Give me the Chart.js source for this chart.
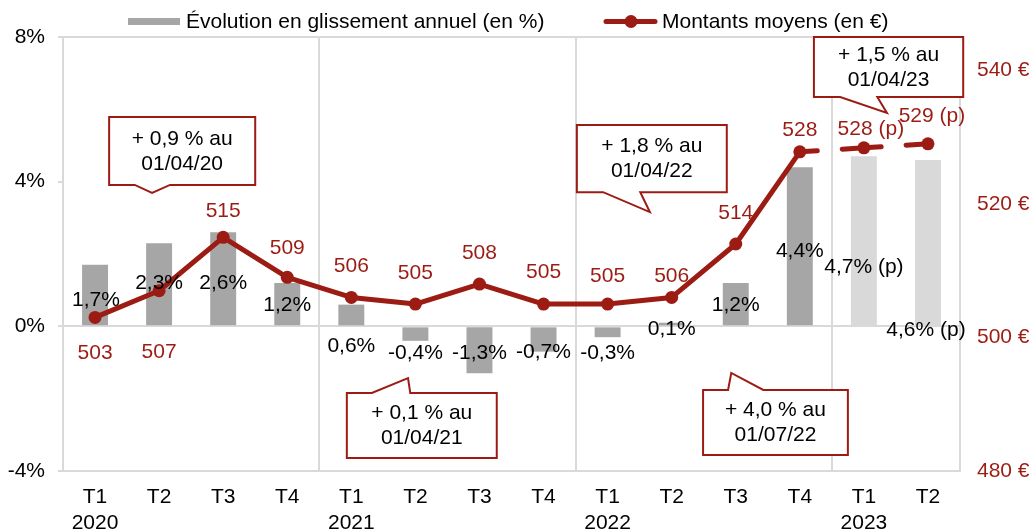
<!DOCTYPE html>
<html>
<head>
<meta charset="utf-8">
<script src="https://cdn.jsdelivr.net/npm/chart.js@4.4.1/dist/chart.umd.min.js"></script>
<style>
  html, body { margin: 0; padding: 0; background: #fff; }
  #wrap { width: 1033px; height: 530px; }
</style>
</head>
<body>
<div id="wrap"><canvas id="chart" width="1033" height="530"></canvas></div>
<script>
// Données
const quarters = ['T1', 'T2', 'T3', 'T4', 'T1', 'T2', 'T3', 'T4', 'T1', 'T2', 'T3', 'T4', 'T1', 'T2'];
const years = ['2020', '', '', '', '2021', '', '', '', '2022', '', '', '', '2023', ''];
const evolution = [1.7, 2.3, 2.6, 1.2, 0.6, -0.4, -1.3, -0.7, -0.3, 0.1, 1.2, 4.4, 4.7, 4.6];
const montants = [503, 507, 515, 509, 506, 505, 508, 505, 505, 506, 514, 527.8, 528.4, 529.0];
const provisional = [false, false, false, false, false, false, false, false, false, false, false, false, true, true];
const leftTicks = [-4, 0, 4, 8];
const rightTicks = [480, 500, 520, 540];

const legendBar = 'Évolution en glissement annuel (en %)';
const legendLine = 'Montants moyens (en €)';

// Bulles : texte, cadre en unités d'axes (catégorie, % axe gauche), pointe
const callouts = [
  { lines: ['+ 0,9 % au', '01/04/20'], x: [0.22, 2.50], y: [5.79, 3.91], side: 'bottom', base: [0.62, 1.17], tip: [0.89, 3.69] },
  { lines: ['+ 0,1 % au', '01/04/21'], x: [3.93, 6.27], y: [-1.84, -3.64], side: 'top', base: [4.32, 4.92], tip: [4.885, -1.43] },
  { lines: ['+ 1,8 % au', '01/04/22'], x: [7.52, 9.86], y: [5.57, 3.71], side: 'bottom', base: [7.93, 8.51], tip: [8.66, 3.16] },
  { lines: ['+ 4,0 % au', '01/07/22'], x: [9.49, 11.75], y: [-1.76, -3.56], side: 'top', base: [9.88, 10.43], tip: [9.93, -1.29] },
  { lines: ['+ 1,5 % au', '01/04/23'], x: [11.22, 13.55], y: [8.0, 6.34], side: 'bottom', base: [11.63, 12.21], tip: [12.36, 5.90] }
];

// Décalages des étiquettes (px)
const barLabelOffsets = [[1, 35], [0, 40], [0, 51], [0, 22], [0, 42], [0, 12], [0, -20], [0, 1], [0, 16], [0, 6], [0, 22], [0, 84], [0, 111], [-2, 170]];
const lineLabelOffsets = [[0, 36], [0, 61], [0, -26], [0, -29], [0, -31], [0, -31], [0, -31], [0, -32], [0, -28], [0, -21], [0, -31], [0, -22], [7, -19], [4, -28]];

const RED = '#9c1c14';
const GRID = '#d9d9d9';
const FONT = "21px 'Liberation Sans', Arial, sans-serif";

Chart.defaults.font.family = "'Liberation Sans', Arial, sans-serif";
Chart.defaults.font.size = 21;
Chart.defaults.color = '#000';

const labels = quarters.map((q, i) => years[i] ? [q, years[i]] : q);

function fmtPct(v, i) {
  return v.toFixed(1).replace('.', ',') + '%' + (provisional[i] ? ' (p)' : '');
}
function fmtEur(v, i) {
  return Math.round(v) + (provisional[i] ? ' (p)' : '');
}

const labelsPlugin = {
  id: 'valueLabels',
  afterDatasetsDraw(chart) {
    const ctx = chart.ctx;
    ctx.save();
    ctx.font = FONT;
    ctx.textAlign = 'center';
    ctx.textBaseline = 'middle';
    const barMeta = chart.getDatasetMeta(1);
    barMeta.data.forEach((el, i) => {
      ctx.fillStyle = '#000';
      ctx.fillText(fmtPct(evolution[i], i), el.x + barLabelOffsets[i][0], el.y + barLabelOffsets[i][1]);
    });
    const lineMeta = chart.getDatasetMeta(0);
    lineMeta.data.forEach((el, i) => {
      ctx.fillStyle = RED;
      ctx.fillText(fmtEur(montants[i], i), el.x + lineLabelOffsets[i][0], el.y + lineLabelOffsets[i][1]);
    });
    ctx.restore();
  }
};

const calloutPlugin = {
  id: 'callouts',
  afterDraw(chart) {
    const ctx = chart.ctx;
    const xs = chart.scales.x, ys = chart.scales.y;
    const px = v => xs.getPixelForValue(v);
    const py = v => ys.getPixelForValue(v);
    ctx.save();
    callouts.forEach(c => {
      const l = px(c.x[0]), r = px(c.x[1]), t = py(c.y[0]), b = py(c.y[1]);
      const b1 = px(c.base[0]), b2 = px(c.base[1]);
      const tx = px(c.tip[0]), ty = py(c.tip[1]);
      ctx.beginPath();
      if (c.side === 'bottom') {
        ctx.moveTo(l, t);
        ctx.lineTo(r, t);
        ctx.lineTo(r, b);
        ctx.lineTo(b2, b);
        ctx.lineTo(tx, ty);
        ctx.lineTo(b1, b);
        ctx.lineTo(l, b);
      } else {
        ctx.moveTo(l, t);
        ctx.lineTo(b1, t);
        ctx.lineTo(tx, ty);
        ctx.lineTo(b2, t);
        ctx.lineTo(r, t);
        ctx.lineTo(r, b);
        ctx.lineTo(l, b);
      }
      ctx.closePath();
      ctx.fillStyle = '#fff';
      ctx.fill();
      ctx.lineWidth = 2;
      ctx.strokeStyle = RED;
      ctx.lineJoin = 'miter';
      ctx.stroke();
      ctx.fillStyle = '#000';
      ctx.font = FONT;
      ctx.textAlign = 'center';
      ctx.textBaseline = 'middle';
      const cx = (l + r) / 2, cy = (t + b) / 2;
      ctx.fillText(c.lines[0], cx, cy - 12);
      ctx.fillText(c.lines[1], cx, cy + 13);
    });

    // Légende
    ctx.fillStyle = '#a6a6a6';
    ctx.fillRect(128, 18, 52, 7);
    ctx.fillStyle = '#000';
    ctx.font = FONT;
    ctx.textAlign = 'left';
    ctx.textBaseline = 'alphabetic';
    ctx.fillText(legendBar, 186, 28);

    ctx.strokeStyle = RED;
    ctx.lineWidth = 5;
    ctx.lineCap = 'round';
    ctx.beginPath();
    ctx.moveTo(606, 21.5);
    ctx.lineTo(655, 21.5);
    ctx.stroke();
    ctx.fillStyle = RED;
    ctx.beginPath();
    ctx.arc(631, 21.5, 6.5, 0, Math.PI * 2);
    ctx.fill();
    ctx.fillStyle = '#000';
    ctx.fillText(legendLine, 662, 28);
    ctx.restore();
  }
};

new Chart(document.getElementById('chart'), {
  data: {
    labels: labels,
    datasets: [
      {
        type: 'line',
        label: legendLine,
        yAxisID: 'y1',
        data: montants,
        borderColor: RED,
        backgroundColor: RED,
        borderWidth: 5,
        borderCapStyle: 'round',
        borderJoinStyle: 'round',
        pointRadius: 6.5,
        pointBorderWidth: 0,
        pointBackgroundColor: RED,
        tension: 0,
        segment: {
          borderDash: c => provisional[c.p1DataIndex] ? [39, 25] : undefined,
          borderDashOffset: c => provisional[c.p1DataIndex] ? 21.5 : undefined
        }
      },
      {
        type: 'bar',
        label: legendBar,
        yAxisID: 'y',
        data: evolution,
        backgroundColor: evolution.map((v, i) => provisional[i] ? '#d9d9d9' : '#a6a6a6'),
        borderWidth: 0,
        barPercentage: 0.405,
        categoryPercentage: 1
      }
    ]
  },
  options: {
    responsive: false,
    animation: false,
    layout: { padding: { top: 37, left: 0, right: 0, bottom: 0 } },
    plugins: {
      legend: { display: false },
      tooltip: { enabled: false }
    },
    scales: {
      x: {
        offset: true,
        grid: {
          offset: true,
          drawTicks: false,
          lineWidth: 2,
          color: c => (c.index !== undefined && c.index % 4 === 0) ? GRID : 'rgba(0,0,0,0)'
        },
        border: { color: GRID, width: 2 },
        ticks: { color: '#000', padding: 14, autoSkip: false, maxRotation: 0 },
        afterFit: s => { s.height = 59; }
      },
      y: {
        position: 'left',
        min: -4,
        max: 8,
        afterBuildTicks: s => { s.ticks = leftTicks.map(v => ({ value: v })); },
        grid: {
          lineWidth: 2,
          tickLength: 5,
          tickColor: GRID,
          color: c => (c.tick && c.tick.value === 4) ? 'rgba(0,0,0,0)' : GRID
        },
        border: { color: GRID, width: 2 },
        ticks: { color: '#000', padding: 13, callback: v => v + '%' },
        afterFit: s => { s.width = 63; }
      },
      y1: {
        position: 'right',
        min: 480,
        max: 545,
        afterBuildTicks: s => { s.ticks = rightTicks.map(v => ({ value: v })); },
        grid: { display: false, drawTicks: false },
        border: { color: GRID, width: 2 },
        ticks: { color: RED, padding: 17, callback: v => v + ' €' },
        afterFit: s => { s.width = 73; }
      }
    }
  },
  plugins: [labelsPlugin, calloutPlugin]
});
</script>
</body>
</html>
